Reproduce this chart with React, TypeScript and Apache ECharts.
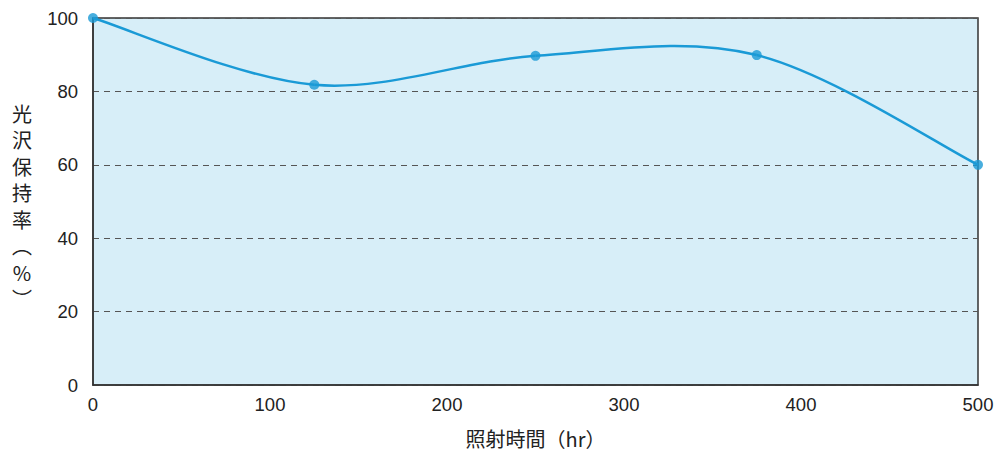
import React, { useEffect, useRef } from "react";
import * as echarts from "echarts";

const hours = [0, 125, 250, 375, 500];
const retention = [100, 81.8, 89.7, 89.9, 60];
const yTicks = [0, 20, 40, 60, 80, 100];
const xTicks = [0, 100, 200, 300, 400, 500];
const xName = "照射時間（hr）";
const yName = ["光", "沢", "保", "持", "率", "︵", "%", "︶"];

const LINE = "#1a9ad6";

export default function App() {
  const ref = useRef<HTMLDivElement>(null);
  useEffect(() => {
    if (!ref.current) return;
    const chart = echarts.init(ref.current, undefined, { renderer: "svg" });
    const font = "'Noto Sans CJK JP', 'Noto Sans', sans-serif";
    const numFont = "'Liberation Sans', Arial, sans-serif";
    const pts = hours.map((h, i) => [h, retention[i]]);
    chart.setOption({
      animation: false,
      backgroundColor: "#ffffff",
      grid: {
        left: 93,
        right: 20,
        top: 18,
        bottom: 67,
        show: true,
        backgroundColor: "#d7eef8",
        borderColor: "#333333",
        borderWidth: 1.5,
      },
      xAxis: {
        type: "value",
        min: 0,
        max: 500,
        interval: 100,
        name: xName,
        nameLocation: "middle",
        nameGap: 43,
        nameTextStyle: { fontSize: 20, color: "#222", fontFamily: font },
        axisLine: { show: true, lineStyle: { color: "#333", width: 1.5 } },
        axisTick: { show: false },
        splitLine: { show: false },
        axisLabel: {
          fontSize: 18.5,
          color: "#222",
          fontFamily: numFont,
          margin: 10,
          formatter: (v: number) => (xTicks.includes(v) ? String(v) : ""),
        },
      },
      yAxis: {
        type: "value",
        min: 0,
        max: 100,
        interval: 20,
        axisLine: { show: true, lineStyle: { color: "#333", width: 1.5 } },
        axisTick: { show: false },
        splitLine: {
          show: true,
          lineStyle: { color: "#555", type: [6, 5], width: 1 },
        },
        axisLabel: {
          fontSize: 18.5,
          color: "#222",
          fontFamily: numFont,
          margin: 15,
          formatter: (v: number) => (yTicks.includes(v) ? String(v) : ""),
        },
      },
      graphic: [
        {
          type: "text",
          x: 22,
          y: 206,
          style: {
            text: yName.join("\n"),
            fontSize: 20,
            lineHeight: 26.5,
            fill: "#222",
            fontFamily: font,
            textAlign: "center",
            textVerticalAlign: "middle",
          },
        },
      ],
      series: [
        {
          type: "custom",
          data: pts,
          clip: false,
          z: 2,
          renderItem: (params: any, api: any) => {
            const i = params.dataIndex;
            if (i >= pts.length - 1) return null;
            const c = pts.map((p) => api.coord(p));
            const p0 = c[Math.max(i - 1, 0)];
            const p1 = c[i];
            const p2 = c[i + 1];
            const p3 = c[Math.min(i + 2, c.length - 1)];
            return {
              type: "bezierCurve",
              shape: {
                x1: p1[0],
                y1: p1[1],
                cpx1: p1[0] + (p2[0] - p0[0]) / 6,
                cpy1: p1[1] + (p2[1] - p0[1]) / 6,
                cpx2: p2[0] - (p3[0] - p1[0]) / 6,
                cpy2: p2[1] - (p3[1] - p1[1]) / 6,
                x2: p2[0],
                y2: p2[1],
              },
              style: { stroke: LINE, lineWidth: 2.5, fill: null },
            };
          },
        },
        {
          type: "scatter",
          data: pts,
          symbol: "circle",
          symbolSize: 10,
          z: 3,
          itemStyle: { color: LINE },
        },
      ],
    });
    return () => chart.dispose();
  }, []);
  return (
    <div
      ref={ref}
      style={{ position: "absolute", left: 0, top: 0, width: 998, height: 453 }}
    />
  );
}
